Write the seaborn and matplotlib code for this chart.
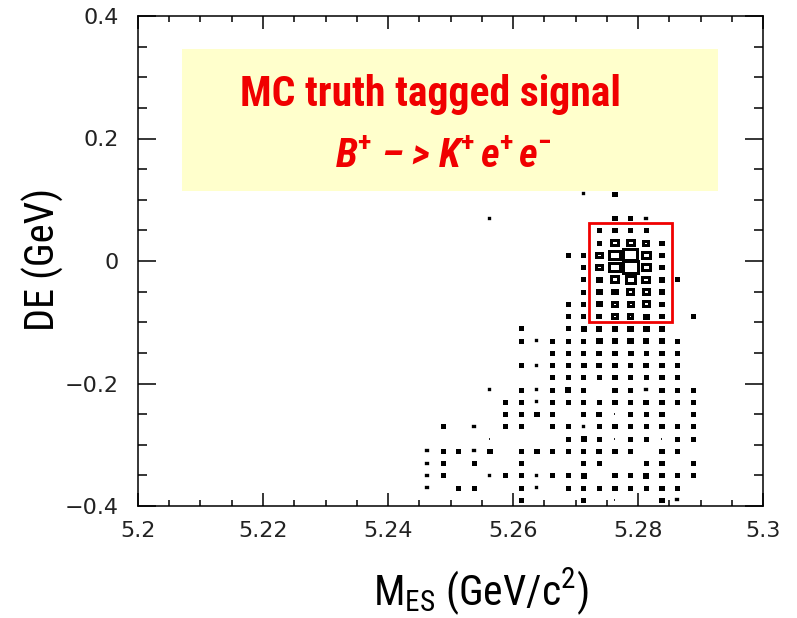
import matplotlib
matplotlib.use("Agg")
import matplotlib.pyplot as plt
from matplotlib.path import Path
from matplotlib.patches import Rectangle
from matplotlib.ticker import MultipleLocator
from matplotlib.font_manager import fontManager, FontProperties
import pandas as pd
import seaborn as sns

# ---- 2D histogram of MC-truth tagged B+ -> K+ e+ e- candidates ----
# bin centres (bin width 0.0025 GeV/c^2 in mES, 0.02 GeV in DE)
mes_centers = [5.24625, 5.24875, 5.25125, 5.25375, 5.25625, 5.25875,
               5.26125, 5.26375, 5.26625, 5.26875, 5.27125, 5.27375,
               5.27625, 5.27875, 5.28125, 5.28375, 5.28625, 5.28875]
de_centers = [0.11, 0.09, 0.07, 0.05, 0.03, 0.01, -0.01, -0.03, -0.05,
              -0.07, -0.09, -0.11, -0.13, -0.15, -0.17, -0.19, -0.21,
              -0.23, -0.25, -0.27, -0.29, -0.31, -0.33, -0.35, -0.37, -0.39]
# entries per cell, one row per DE bin (top to bottom), one column per mES bin
counts = [
    [0, 0, 0, 0, 0, 0, 0, 0, 0, 0, 2, 0, 3, 0, 0, 0, 0, 0],
    [0, 0, 0, 0, 0, 0, 0, 0, 0, 0, 0, 0, 0, 0, 0, 0, 0, 0],
    [0, 0, 0, 0, 2, 0, 0, 0, 0, 0, 0, 0, 3, 3, 2, 0, 0, 0],
    [0, 0, 0, 0, 0, 0, 0, 0, 0, 0, 0, 3, 3, 3, 3, 0, 0, 0],
    [0, 0, 0, 0, 0, 0, 0, 0, 0, 0, 0, 3, 10, 11, 7, 3, 0, 0],
    [0, 0, 0, 0, 0, 0, 0, 0, 0, 3, 3, 8, 19, 28, 12, 4, 0, 0],
    [0, 0, 0, 0, 0, 0, 0, 0, 0, 0, 3, 8, 18, 31, 12, 4, 0, 0],
    [0, 0, 0, 0, 0, 0, 0, 0, 0, 0, 3, 5, 12, 16, 11, 4, 3, 0],
    [0, 0, 0, 0, 0, 0, 0, 0, 0, 0, 3, 5, 6, 8, 10, 4, 0, 0],
    [0, 0, 0, 0, 0, 0, 0, 0, 0, 3, 3, 5, 6, 7, 10, 3, 0, 0],
    [0, 0, 0, 0, 0, 0, 0, 0, 0, 3, 3, 4, 6, 6, 5, 4, 0, 3],
    [0, 0, 0, 0, 0, 0, 3, 0, 0, 3, 4, 4, 4, 6, 5, 4, 0, 0],
    [0, 0, 0, 0, 0, 0, 3, 2, 3, 3, 3, 5, 5, 6, 4, 4, 3, 0],
    [0, 0, 0, 0, 0, 0, 0, 0, 3, 3, 3, 4, 3, 4, 3, 3, 3, 0],
    [0, 0, 0, 0, 0, 0, 3, 2, 3, 3, 4, 4, 3, 3, 4, 3, 3, 0],
    [0, 0, 0, 0, 0, 1, 0, 0, 3, 3, 3, 3, 3, 3, 3, 3, 3, 0],
    [0, 0, 0, 0, 2, 0, 3, 2, 3, 4, 3, 0, 3, 3, 2, 3, 3, 3],
    [0, 0, 0, 0, 0, 3, 3, 2, 3, 3, 3, 3, 3, 3, 4, 3, 3, 3],
    [0, 0, 0, 0, 0, 3, 3, 4, 3, 1, 3, 4, 1, 3, 3, 4, 0, 3],
    [0, 3, 0, 2, 0, 3, 3, 0, 3, 3, 2, 3, 3, 3, 3, 3, 3, 3],
    [0, 0, 0, 1, 1, 1, 1, 0, 0, 3, 4, 3, 1, 3, 3, 1, 3, 3],
    [2, 3, 3, 2, 3, 0, 3, 4, 3, 3, 3, 4, 3, 3, 0, 3, 3, 0],
    [2, 3, 0, 3, 0, 1, 3, 0, 1, 0, 3, 3, 0, 1, 3, 3, 1, 3],
    [2, 3, 0, 0, 2, 3, 3, 2, 3, 3, 4, 0, 3, 3, 4, 3, 3, 3],
    [2, 0, 3, 3, 0, 0, 3, 2, 0, 3, 3, 3, 3, 3, 3, 3, 3, 0],
    [0, 0, 0, 0, 0, 1, 3, 0, 0, 1, 3, 0, 1, 0, 0, 3, 2, 1],
]

# signal window drawn as a red frame
signal_mes = [5.2721, 5.2855]
signal_de = [-0.099, 0.062]

xtick_values = [5.2, 5.22, 5.24, 5.26, 5.28, 5.3]
xtick_labels = ["5.2", "5.22", "5.24", "5.26", "5.28", "5.3"]
ytick_values = [-0.4, -0.2, 0.0, 0.2, 0.4]
ytick_labels = ["\u22120.4", "\u22120.2", "0", "0.2", "0.4"]

title_line1 = "MC truth tagged signal"
title_line2 = ("B$^{\\mathbf{+}}$ \u2013 > K$^{\\mathbf{+}}\\,$"
               "e$^{\\mathbf{+}}\\,$e$^{\\mathbf{-}}$")
xlabel = r"M$_{\mathrm{ES}}$ (GeV/c$^{\mathrm{2}}$)"
ylabel = "DE (GeV)"

DPI = 100
W, H = 797, 618

sns.set_style("white")


def narrow_font():
    """Pick an installed condensed sans-serif face: (family, stretch, size factor)."""
    names = {f.name for f in fontManager.ttflist}
    for fam in ["Liberation Sans Narrow", "Arial Narrow", "Roboto Condensed",
                "Noto Sans Condensed", "Open Sans Condensed", "DejaVu Sans Condensed"]:
        if fam in names:
            return fam, "normal", 1.0
    for fam in ["Noto Sans", "Open Sans", "Roboto", "DejaVu Sans", "Liberation Sans"]:
        for f in fontManager.ttflist:
            if f.name == fam and "condensed" in str(f.stretch):
                return fam, str(f.stretch), 1.0
    return "Liberation Sans", "normal", 0.84


NARROW, STRETCH, SCALE = narrow_font()
plt.rcParams["font.family"] = ["DejaVu Sans"]
plt.rcParams["mathtext.fontset"] = "custom"
plt.rcParams["mathtext.rm"] = f"{NARROW}:stretch={STRETCH}"
plt.rcParams["mathtext.bf"] = f"{NARROW}:weight=bold:stretch={STRETCH}"
plt.rcParams["mathtext.it"] = f"{NARROW}:style=italic:stretch={STRETCH}"


def label_font(size, weight="normal", style="normal"):
    return FontProperties(family=NARROW, stretch=STRETCH, weight=weight,
                          style=style, size=size * SCALE)


def box_side_px(n):
    """Inner side of the box drawn for a cell with n entries."""
    return max(0.3, 1.4 * (n - 1) ** 0.7)


def box_edge_px(n):
    """Outline width: sparse cells shrink to a dot or dash."""
    return min(3.0, 1.0 + 0.67 * n)


records = [(m, d, c, (box_side_px(c) * 72.0 / DPI) ** 2, box_edge_px(c) * 72.0 / DPI)
           for d, row in zip(de_centers, counts)
           for m, c in zip(mes_centers, row) if c > 0]
df = pd.DataFrame(records, columns=["mes", "de", "entries", "area", "edge"])
area_range = (df["area"].min(), df["area"].max())

# rectangular box with the aspect of one histogram bin
aspect = 12.25 / 15.625
box = Path([(-0.5, -0.5 * aspect), (0.5, -0.5 * aspect), (0.5, 0.5 * aspect),
            (-0.5, 0.5 * aspect), (-0.5, -0.5 * aspect)],
           [Path.MOVETO, Path.LINETO, Path.LINETO, Path.LINETO, Path.CLOSEPOLY])

fig = plt.figure(figsize=(W / DPI, H / DPI), dpi=DPI)
ax = fig.add_axes([138 / W, 1 - 506 / H, 625 / W, 490 / H])

# legend panel behind the histogram
ax.add_patch(Rectangle((0.0704, 0.643), 0.8576, 0.2897, transform=ax.transAxes,
                       facecolor="#FFFFCC", edgecolor="none", zorder=0))

sns.scatterplot(data=df, x="mes", y="de", size="area", sizes=area_range,
                size_norm=area_range, marker=box, color="black",
                facecolor="none", edgecolor="black",
                linewidth=df["edge"].to_numpy(), legend=False, ax=ax, zorder=2)
ax.collections[-1].set_joinstyle("miter")

ax.add_patch(Rectangle((signal_mes[0], signal_de[0]),
                       signal_mes[1] - signal_mes[0], signal_de[1] - signal_de[0],
                       facecolor="none", edgecolor="#F00000", linewidth=2.0, zorder=3))

ax.set_xlim(5.2, 5.3)
ax.set_ylim(-0.4, 0.4)
ax.set_xticks(xtick_values, labels=xtick_labels)
ax.set_yticks(ytick_values, labels=ytick_labels)
ax.xaxis.set_minor_locator(MultipleLocator(0.005))
ax.yaxis.set_minor_locator(MultipleLocator(0.05))

for sp in ax.spines.values():
    sp.set_color("black")
    sp.set_linewidth(1.1)

ax.tick_params(which="both", direction="in", top=True, bottom=True, left=True,
               right=True, labeltop=False, labelright=False, width=1.1,
               color="black", labelcolor="#222222", labelsize=16)
ax.tick_params(axis="x", which="major", length=9.4, pad=11)
ax.tick_params(axis="x", which="minor", length=4.6)
ax.tick_params(axis="y", which="major", length=13, pad=14)
ax.tick_params(axis="y", which="minor", length=6.5)

ax.set_xlabel(xlabel, fontproperties=label_font(30), color="black")
ax.xaxis.set_label_coords((481 - 138) / 625, (506 - 605) / 490)
ax.xaxis.label.set_verticalalignment("baseline")

ax.set_ylabel(ylabel, fontproperties=label_font(29), color="black")
ax.yaxis.set_label_coords((43 - 138) / 625, (506 - 259) / 490)
ax.yaxis.label.set_verticalalignment("center")

fig.text(430 / W, 1 - 106 / H, title_line1, fontproperties=label_font(30, "bold"),
         color="#F00000", ha="center", va="baseline")
fig.text(443 / W, 1 - 168 / H, title_line2,
         fontproperties=label_font(29, "bold", "italic"),
         color="#F00000", ha="center", va="baseline")

fig.savefig("out.png", dpi=DPI)
